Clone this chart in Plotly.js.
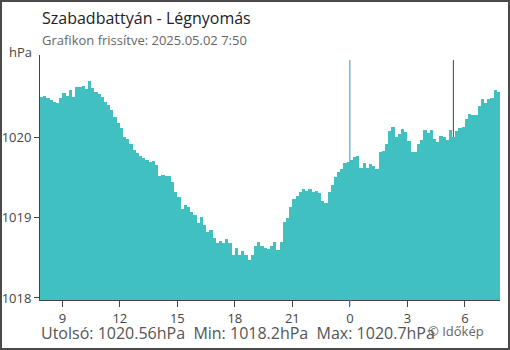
<!DOCTYPE html>
<html>
<head>
<meta charset="utf-8">
<script src="https://cdn.plot.ly/plotly-3.0.1.min.js"></script>
<style>
  html, body { margin: 0; padding: 0; background: #fff; }
  #wrap { position: relative; width: 510px; height: 350px; }
  #chart { width: 510px; height: 350px; }
  #frame { position: absolute; left: 0; top: 0; width: 510px; height: 350px; box-sizing: border-box; border: 2px solid #4a4a4a; pointer-events: none; }
</style>
</head>
<body>
<div id="wrap"><div id="chart"></div><div id="frame"></div></div>
<script>
// 10-minute readings, 2025-05-01 07:50 .. 2025-05-02 07:50
const startTime = "2025-05-01T07:55:00";
const stepMinutes = 10;
const pressure = [
  1020.50, 1020.51, 1020.48, 1020.46, 1020.43, 1020.42, 1020.48, 1020.55, 1020.51, 1020.58,
  1020.50, 1020.62, 1020.62, 1020.63, 1020.60, 1020.70, 1020.61, 1020.56, 1020.54, 1020.50,
  1020.44, 1020.40, 1020.34, 1020.25, 1020.18, 1020.11, 1020.00, 1019.98, 1019.92, 1019.84,
  1019.80, 1019.77, 1019.74, 1019.71, 1019.69, 1019.70, 1019.65, 1019.52, 1019.53, 1019.51,
  1019.51, 1019.44, 1019.32, 1019.26, 1019.11, 1019.16, 1019.13, 1019.07, 1019.03, 1018.93,
  1019.01, 1018.91, 1018.82, 1018.84, 1018.74, 1018.68, 1018.71, 1018.68, 1018.73, 1018.68,
  1018.53, 1018.62, 1018.53, 1018.58, 1018.53, 1018.47, 1018.53, 1018.64, 1018.70, 1018.64,
  1018.62, 1018.61, 1018.65, 1018.70, 1018.60, 1018.70, 1018.95, 1019.00, 1019.13, 1019.23,
  1019.27, 1019.32, 1019.35, 1019.33, 1019.36, 1019.32, 1019.33, 1019.30, 1019.20, 1019.18,
  1019.32, 1019.40, 1019.50, 1019.57, 1019.60, 1019.68, 1019.69, 1019.71, 1019.75, 1019.76,
  1019.62, 1019.68, 1019.61, 1019.67, 1019.64, 1019.60, 1019.82, 1019.83, 1019.91, 1020.07,
  1020.12, 1020.00, 1020.04, 1020.10, 1020.06, 1019.95, 1019.81, 1019.81, 1019.91, 1019.96,
  1020.09, 1020.05, 1020.09, 1019.98, 1019.94, 1020.01, 1020.00, 1019.96, 1020.09, 1020.00,
  1020.07, 1020.11, 1020.13, 1020.23, 1020.29, 1020.27, 1020.27, 1020.38, 1020.47, 1020.42,
  1020.47, 1020.49, 1020.58, 1020.56
];
const tickTimes = ["2025-05-01 09:00", "2025-05-01 12:00", "2025-05-01 15:00", "2025-05-01 18:00",
                   "2025-05-01 21:00", "2025-05-02 00:00", "2025-05-02 03:00", "2025-05-02 06:00"];
const tickLabels = ["9", "12", "15", "18", "21", "0", "3", "6"];
const yTicks = [1018, 1019, 1020];
const xRange = ["2025-05-01 07:50", "2025-05-02 07:50"];
const yRange = [1017.975, 1021.02];
const midnight = "2025-05-02 00:00";
const sunrise = "2025-05-02 05:24";
const titleText = "Szabadbattyán - Légnyomás";
const subtitleText = "Grafikon frissítve: 2025.05.02 7:50";
const statsText = "Utolsó: 1020.56hPa  Min: 1018.2hPa  Max: 1020.7hPa";
const creditText = "© Időkép";
const unitText = "hPa";

function pad(n) { return (n < 10 ? "0" : "") + n; }
const t0 = new Date(startTime + "Z").getTime();
const times = pressure.map((_, i) => {
  const d = new Date(t0 + i * stepMinutes * 60000);
  return d.getUTCFullYear() + "-" + pad(d.getUTCMonth() + 1) + "-" + pad(d.getUTCDate()) + " " +
         pad(d.getUTCHours()) + ":" + pad(d.getUTCMinutes());
});

const FONT = "Open Sans, Noto Sans, sans-serif";

const trace = {
  type: "bar",
  x: times,
  y: pressure,
  width: stepMinutes * 60000,
  marker: { color: "#41c0c2", line: { width: 0 } },
  hoverinfo: "x+y"
};

const layout = {
  width: 510, height: 350,
  margin: { l: 40, r: 10, t: 55, b: 50 },
  paper_bgcolor: "#ffffff",
  plot_bgcolor: "#ffffff",
  showlegend: false,
  bargap: 0,
  font: { family: FONT, color: "#444", size: 13 },
  xaxis: {
    type: "date",
    range: xRange,
    tickvals: tickTimes,
    ticktext: tickLabels,
    ticks: "outside", ticklen: 6, tickwidth: 1, tickcolor: "#444",
    showline: true, linecolor: "#444", linewidth: 1,
    showgrid: false, zeroline: false,
    tickfont: { family: FONT, size: 13, color: "#444" }
  },
  yaxis: {
    range: yRange,
    tickvals: yTicks,
    ticktext: yTicks.map(String),
    ticks: "outside", ticklen: 5, tickwidth: 1, tickcolor: "#444",
    showline: true, linecolor: "#444", linewidth: 1,
    showgrid: false, zeroline: false,
    tickfont: { family: FONT, size: 13, color: "#444" }
  },
  shapes: [
    { type: "line", layer: "below", xref: "x", yref: "paper", x0: midnight, x1: midnight, y0: 0, y1: 0.98,
      line: { color: "#3a8fcf", width: 1 } },
    { type: "line", layer: "above", xref: "x", yref: "paper", x0: midnight, x1: midnight, y0: -0.025, y1: 0,
      line: { color: "#3a8fcf", width: 1 } },
    { type: "line", layer: "below", xref: "x", yref: "paper", x0: sunrise, x1: sunrise, y0: 0, y1: 0.98,
      line: { color: "#444", width: 1 } }
  ],
  annotations: [
    { text: titleText, xref: "paper", yref: "paper", x: 0, y: 1.151, xanchor: "left", yanchor: "middle",
      showarrow: false, font: { family: FONT, size: 16, color: "#222" } },
    { text: subtitleText, xref: "paper", yref: "paper", x: 0, y: 1.061, xanchor: "left", yanchor: "middle",
      showarrow: false, font: { family: FONT, size: 13, color: "#666" } },
    { text: unitText, xref: "paper", yref: "paper", x: -0.013, y: 1.012, xanchor: "right", yanchor: "middle",
      showarrow: false, font: { family: FONT, size: 13, color: "#444" } },
    { text: statsText, xref: "paper", yref: "paper", x: -0.003, y: -0.135, xanchor: "left", yanchor: "middle",
      showarrow: false, font: { family: FONT, size: 16, color: "#555" } },
    { text: creditText, xref: "paper", yref: "paper", x: 0.839, y: -0.127, xanchor: "left", yanchor: "middle",
      showarrow: false, font: { family: FONT, size: 13, color: "#666" } }
  ]
};

Plotly.newPlot("chart", [trace], layout, { displayModeBar: false, staticPlot: true });
</script>
</body>
</html>
